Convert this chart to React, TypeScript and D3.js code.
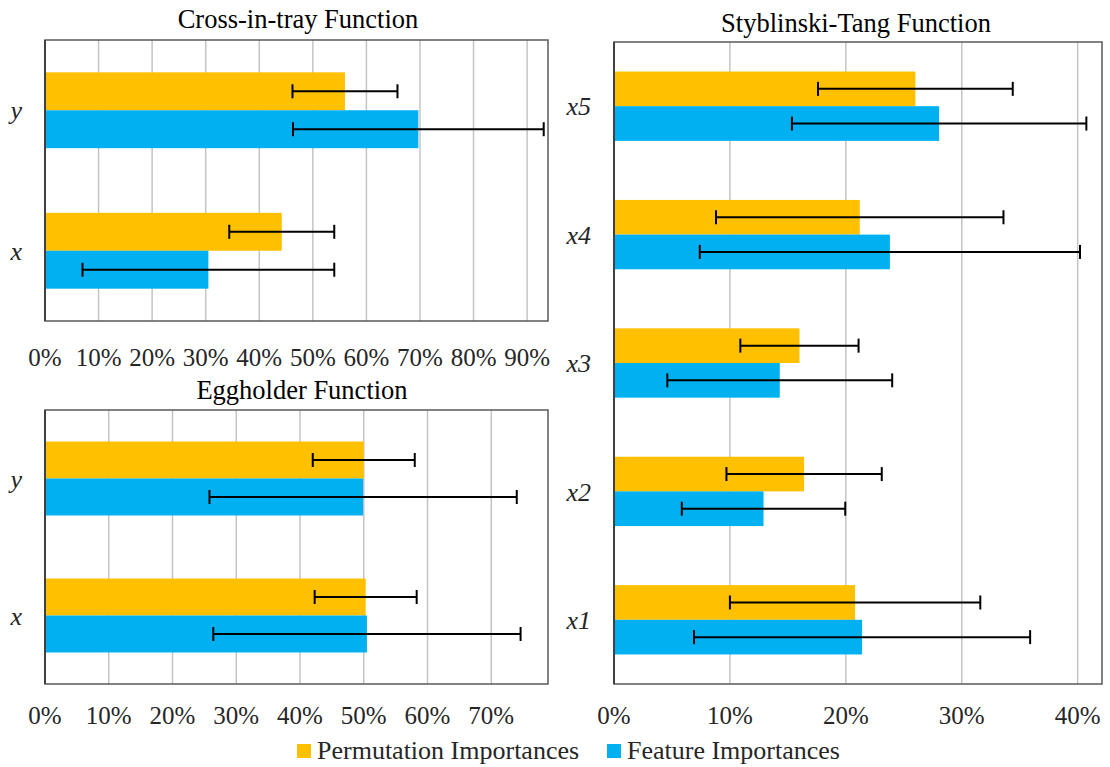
import React from "react";
import { scaleLinear, scaleBand, range } from "d3";

// series names and colours
const seriesNames = ["Permutation Importances", "Feature Importances"];
const seriesColors = ["#FFC000", "#00B0F0"];

// Cross-in-tray
const crossVars = ["y", "x"];
const crossPerm = [0.56, 0.442];
const crossPermErr = [0.098, 0.098];
const crossFeat = [0.697, 0.305];
const crossFeatErr = [0.234, 0.235];
const crossTicks = [0, 0.1, 0.2, 0.3, 0.4, 0.5, 0.6, 0.7, 0.8, 0.9];

// Eggholder
const eggVars = ["y", "x"];
const eggPerm = [0.5, 0.503];
const eggPermErr = [0.08, 0.08];
const eggFeat = [0.499, 0.505];
const eggFeatErr = [0.241, 0.241];
const eggTicks = [0, 0.1, 0.2, 0.3, 0.4, 0.5, 0.6, 0.7];

// Styblinski-Tang
const styVars = ["x5", "x4", "x3", "x2", "x1"];
const styPerm = [0.26, 0.212, 0.16, 0.164, 0.208];
const styPermErr = [0.084, 0.124, 0.051, 0.067, 0.108];
const styFeat = [0.2805, 0.238, 0.143, 0.129, 0.214];
const styFeatErr = [0.127, 0.164, 0.097, 0.0705, 0.145];
const styTicks = [0, 0.1, 0.2, 0.3, 0.4];

const FONT = "'Liberation Serif', 'Times New Roman', serif";

type PanelProps = {
  title: string;
  cats: string[];
  perm: number[];
  permErr: number[];
  feat: number[];
  featErr: number[];
  ticks: number[];
  max: number;
  x0: number;
  x1: number;
  y0: number;
  y1: number;
  tickY: number;
  titleY: number;
  titleX: number;
};

function Panel(p: PanelProps) {
  const x = scaleLinear().domain([0, p.max]).range([p.x0, p.x1]);
  const y = scaleBand<string>().domain(p.cats).range([p.y0, p.y1]).paddingInner(0.46).paddingOuter(0.23);
  const sub = scaleBand<string>().domain(["0", "1"]).range([0, y.bandwidth()]);
  const series = [
    { vals: p.perm, errs: p.permErr },
    { vals: p.feat, errs: p.featErr },
  ];
  return (
    <g>
      <text x={p.titleX} y={p.titleY} textAnchor="middle" fontFamily={FONT} fontSize={26.5} fill="#000">
        {p.title}
      </text>
      {/* gridlines */}
      {p.ticks.map((t) => (
        <line key={"g" + t} x1={x(t)} x2={x(t)} y1={p.y0} y2={p.y1} stroke="#c4c4c4" strokeWidth={1.5} />
      ))}
      {/* bars */}
      {series.map((s, si) =>
        p.cats.map((c, ci) => (
          <rect
            key={"b" + si + c}
            x={x(0)}
            y={(y(c) as number) + (sub(String(si)) as number)}
            width={x(s.vals[ci]) - x(0)}
            height={sub.bandwidth()}
            fill={seriesColors[si]}
          />
        ))
      )}
      {/* error bars */}
      {series.map((s, si) =>
        p.cats.map((c, ci) => {
          const cy = (y(c) as number) + (sub(String(si)) as number) + sub.bandwidth() / 2;
          const lo = x(s.vals[ci] - s.errs[ci]);
          const hi = x(s.vals[ci] + s.errs[ci]);
          return (
            <g key={"e" + si + c} stroke="#000" strokeWidth={2}>
              <line x1={lo} x2={hi} y1={cy} y2={cy} />
              <line x1={lo} x2={lo} y1={cy - 7} y2={cy + 7} />
              <line x1={hi} x2={hi} y1={cy - 7} y2={cy + 7} />
            </g>
          );
        })
      )}
      {/* frame */}
      <rect x={p.x0} y={p.y0} width={p.x1 - p.x0} height={p.y1 - p.y0} fill="none" stroke="#595959" strokeWidth={1.5} />
      <line x1={p.x0} x2={p.x0} y1={p.y0} y2={p.y1} stroke="#404040" strokeWidth={2} />
      {/* category labels */}
      {p.cats.map((c) => (
        <text
          key={"c" + c}
          x={p.x0 - 23}
          y={(y(c) as number) + y.bandwidth() / 2}
          dy="0.35em"
          textAnchor="end"
          fontFamily={FONT}
          fontStyle="italic"
          fontSize={26}
          fill="#262626"
        >
          {c}
        </text>
      ))}
      {/* tick labels */}
      {p.ticks.map((t) => (
        <text key={"t" + t} x={x(t)} y={p.tickY} textAnchor="middle" fontFamily={FONT} fontSize={25} fill="#262626">
          {Math.round(t * 100) + "%"}
        </text>
      ))}
    </g>
  );
}

export default function App() {
  return (
    <svg width={1110} height={767} style={{ position: "absolute", left: 0, top: 0, background: "#fff" }}>
      <rect width={1110} height={767} fill="#fff" />
      <Panel
        title="Cross-in-tray Function"
        cats={crossVars}
        perm={crossPerm}
        permErr={crossPermErr}
        feat={crossFeat}
        featErr={crossFeatErr}
        ticks={crossTicks}
        max={0.939}
        x0={45}
        x1={548}
        y0={40}
        y1={321}
        tickY={366}
        titleY={28}
        titleX={298}
      />
      <Panel
        title="Eggholder Function"
        cats={eggVars}
        perm={eggPerm}
        permErr={eggPermErr}
        feat={eggFeat}
        featErr={eggFeatErr}
        ticks={eggTicks}
        max={0.789}
        x0={45}
        x1={548}
        y0={410}
        y1={684}
        tickY={724}
        titleY={399}
        titleX={302}
      />
      <Panel
        title="Styblinski-Tang Function"
        cats={styVars}
        perm={styPerm}
        permErr={styPermErr}
        feat={styFeat}
        featErr={styFeatErr}
        ticks={styTicks}
        max={0.421}
        x0={614}
        x1={1102}
        y0={42}
        y1={684}
        tickY={724}
        titleY={32}
        titleX={856}
      />
      {/* legend */}
      {range(2).map((i) => {
        const lx = i === 0 ? 297 : 607;
        return (
          <g key={"l" + i}>
            <rect x={lx} y={744} width={14} height={14} fill={seriesColors[i]} />
            <text x={lx + 20} y={759} fontFamily={FONT} fontSize={26} fill="#262626">
              {seriesNames[i]}
            </text>
          </g>
        );
      })}
    </svg>
  );
}
